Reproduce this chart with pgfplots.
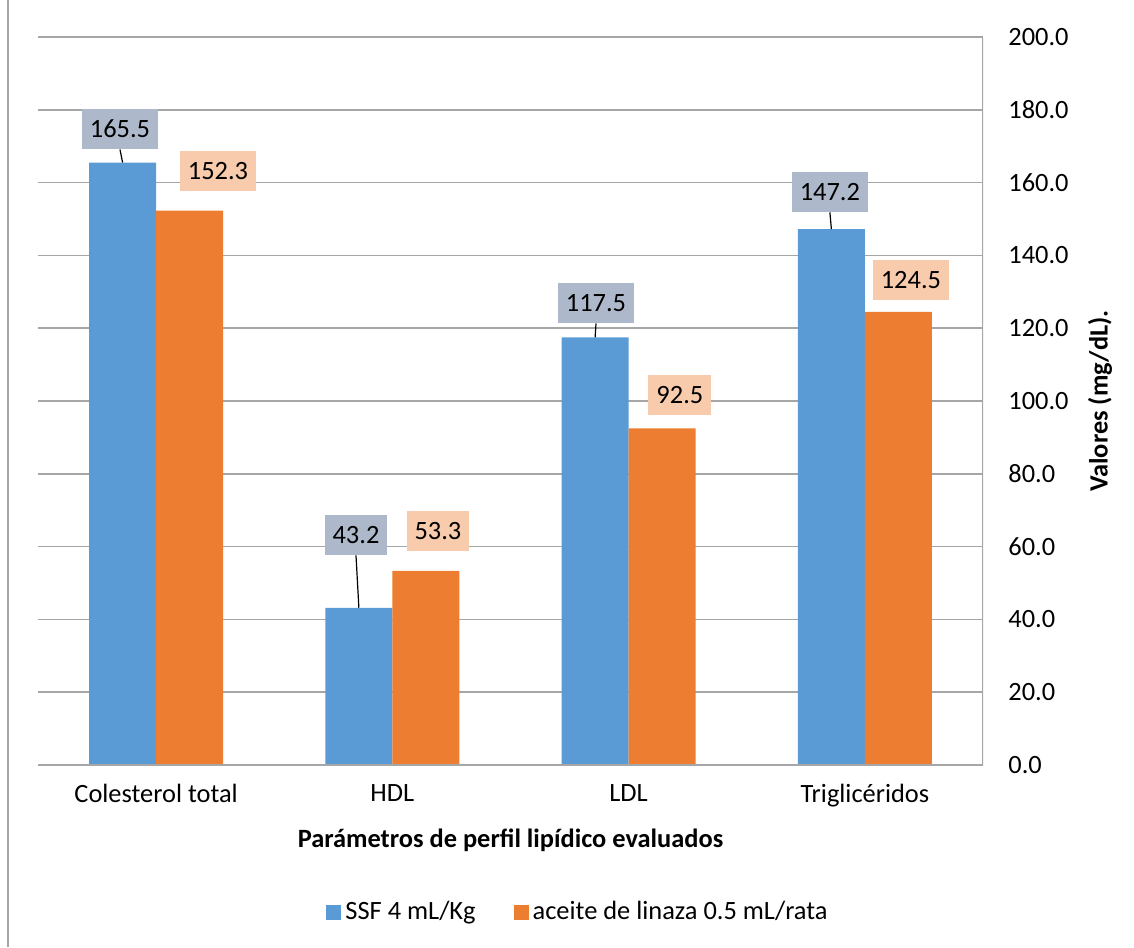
\documentclass[border=0pt]{standalone}
\usepackage{pgfplots}
\pgfplotsset{compat=1.18}
\usepackage{fontspec}
\setmainfont{Carlito}
\definecolor{cblue}{HTML}{5B9BD5}
\definecolor{corange}{HTML}{ED7D31}
\definecolor{lblue}{HTML}{ADB9CA}
\definecolor{lorange}{HTML}{F8CBAD}
\definecolor{gridc}{HTML}{A6A6A6}
\begin{document}
\begin{tikzpicture}[font=\fontsize{13.2}{15.8}\selectfont,
  lab/.style={inner xsep=4pt, inner ysep=0pt, minimum height=20pt, text=black}]
\path[use as bounding box] (-19pt,-91pt) rectangle (548pt,382.5pt);
\draw[gridc, line width=1.2pt] (-15pt,-91pt) -- (-15pt,382.5pt);
\begin{axis}[
  scale only axis, width=472.5pt, height=364pt,
  at={(0,0)}, anchor=south west,
  ybar=0pt, bar width=33.5pt,
  xmin=-0.5, xmax=3.5, ymin=0, ymax=200,
  xtick={0,1,2,3},
  xticklabels={Colesterol total,HDL,LDL,Triglicéridos},
  ytick={0,20,...,200},
  yticklabel pos=right,
  major tick length=0pt,
  ymajorgrids,
  grid style={gridc, line width=0.8pt},
  axis line style={draw=none},
  /pgf/number format/.cd, fixed, fixed zerofill, precision=1, assume math mode=true,
  /pgfplots/.cd,
  yticklabel style={anchor=west, inner sep=0pt, xshift=12.5pt},
  xticklabel style={yshift=-6pt},
  xlabel={\textbf{Parámetros de perfil lipídico evaluados}},
  xlabel style={at={(axis description cs:0.5,-0.103)}, anchor=center},
  ylabel={\textbf{Valores (mg/dL).}},
  ylabel style={at={(axis description cs:1.1238,0.5)}, anchor=center},
  legend style={draw=none, at={(0.5725,-0.202)}, anchor=center,
    legend columns=2, /tikz/every even column/.append style={column sep=17pt}},
  legend image code/.code={\fill[#1] (0pt,-3.75pt) rectangle (7.5pt,3.75pt);},
]
\addplot[fill=cblue, draw=none] coordinates {(0,165.5) (1,43.2) (2,117.5) (3,147.2)};
\addplot[fill=corange, draw=none] coordinates {(0,152.3) (1,53.3) (2,92.5) (3,124.5)};
\legend{SSF 4 mL/Kg, aceite de linaza 0.5 mL/rata}
\draw[gridc, line width=0.8pt] (rel axis cs:0,0) -- (rel axis cs:1,0) -- (rel axis cs:1,1);
\node[lab, fill=lblue] (a1) at (axis cs:-0.153,174.7) {165.5};
\node[lab, fill=lorange] (b1) at (axis cs:0.262,163.2) {152.3};
\node[lab, fill=lblue] (a2) at (axis cs:0.846,63.2) {43.2};
\node[lab, fill=lorange] (b2) at (axis cs:1.193,64.3) {53.3};
\node[lab, fill=lblue] (a3) at (axis cs:1.862,126.9) {117.5};
\node[lab, fill=lorange] (b3) at (axis cs:2.217,101.6) {92.5};
\node[lab, fill=lblue] (a4) at (axis cs:2.852,157.4) {147.2};
\node[lab, fill=lorange] (b4) at (axis cs:3.195,133.2) {124.5};
\draw[black, line width=0.6pt] (a1.south) -- ([xshift=-16.75pt]axis cs:0,165.5);
\draw[black, line width=0.6pt] (a2.south) -- ([xshift=-16.75pt]axis cs:1,43.2);
\draw[black, line width=0.6pt] (a3.south) -- ([xshift=-16.75pt]axis cs:2,117.5);
\draw[black, line width=0.6pt] (a4.south) -- ([xshift=-16.75pt]axis cs:3,147.2);
\end{axis}
\end{tikzpicture}
\end{document}
